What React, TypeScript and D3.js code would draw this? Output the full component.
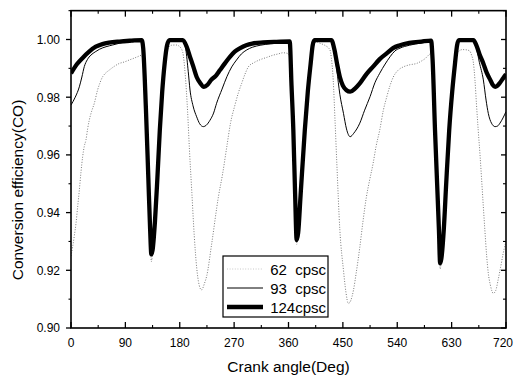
import React from 'react';
import * as d3 from 'd3';

const W = 514;
const H = 378;

const xTickValues = [0, 90, 180, 270, 360, 450, 540, 630, 720];
const xMinorTicks = [45, 135, 225, 315, 405, 495, 585, 675];
const yTickValues = [0.9, 0.92, 0.94, 0.96, 0.98, 1.0];
const yMinorTicks = [0.91, 0.93, 0.95, 0.97, 0.99, 1.01];
const legendLabels = ['62  cpsc', '93  cpsc', '124cpsc'];

// [crank angle (deg), conversion efficiency]
const cpsc62: [number, number][] = [
  [0, 0.925], [2.8, 0.9282], [5.5, 0.932], [8.3, 0.9363], [11, 0.942], [13.8, 0.9478],
  [16.5, 0.954], [19.3, 0.9594], [22, 0.963], [24.8, 0.9652], [27.5, 0.969], [30.3, 0.9721],
  [34, 0.975], [38.6, 0.9779], [44, 0.9825], [48, 0.985], [52.4, 0.9871], [57, 0.9883],
  [63.4, 0.9894], [71, 0.9906], [80, 0.9917], [88, 0.9922], [96.5, 0.9929], [104, 0.9935],
  [110, 0.994], [116, 0.9945], [119.5, 0.993], [124, 0.975], [128, 0.952], [131, 0.934],
  [133, 0.923], [135, 0.926], [139, 0.937], [143, 0.952], [147, 0.9686], [151, 0.982],
  [155, 0.9917], [160, 0.9965], [166, 0.998], [174, 0.9981], [180, 0.9975], [185, 0.9955],
  [189, 0.988], [193, 0.975], [196, 0.962], [200, 0.947], [204, 0.932], [208, 0.921],
  [212, 0.915], [216, 0.9132], [221, 0.9155], [224.6, 0.918], [233, 0.9294], [244, 0.9455],
  [251, 0.9535], [258, 0.963], [264, 0.971], [271, 0.977], [277, 0.9815], [282.5, 0.9848],
  [288, 0.988], [293.5, 0.9905], [303, 0.992], [313, 0.993], [324, 0.9938], [335, 0.9946],
  [343, 0.995], [351, 0.9954], [358, 0.9952], [362, 0.994], [365, 0.984], [368, 0.9686],
  [371, 0.946], [373.5, 0.929], [376, 0.932], [380, 0.946], [387, 0.9686], [392, 0.982],
  [396.7, 0.9917], [401, 0.997], [406.6, 0.9992], [412, 0.9987], [420, 0.998], [428.6, 0.9964],
  [431, 0.9935], [434, 0.986], [437, 0.972], [440, 0.957], [445, 0.934], [451, 0.92],
  [455, 0.9125], [459, 0.9085], [463, 0.9095], [467.6, 0.9132], [472, 0.919], [478, 0.928],
  [483, 0.9365], [489, 0.9455], [494, 0.951], [500, 0.957], [505, 0.963], [511, 0.9686],
  [517, 0.9755], [522.5, 0.98], [528, 0.984], [533.5, 0.987], [541.7, 0.9894], [550, 0.9905],
  [560, 0.9912], [572, 0.9917], [585, 0.9932], [597, 0.9952], [598.5, 0.992], [602.5, 0.9686],
  [606, 0.95], [609, 0.934], [611, 0.9205], [613, 0.923], [617, 0.934], [621, 0.95],
  [626, 0.9686], [631, 0.982], [635.6, 0.9917], [640, 0.9955], [648, 0.9965], [655, 0.9964],
  [660, 0.996], [663, 0.9946], [666, 0.992], [668.6, 0.986], [671, 0.978], [674, 0.9686],
  [677, 0.96], [679.7, 0.9513], [682.5, 0.942], [685, 0.934], [688, 0.925], [690.7, 0.919],
  [694, 0.915], [699, 0.912], [703, 0.913], [707, 0.9167], [711, 0.921], [715.5, 0.926],
  [720, 0.93],
];

const cpsc93: [number, number][] = [
  [0, 0.9773], [7, 0.98], [13.8, 0.9836], [18, 0.987], [22, 0.9906], [27, 0.993],
  [33, 0.9946], [40, 0.9957], [47, 0.9966], [58, 0.9975], [69, 0.9981], [80, 0.9987],
  [93, 0.9993], [105, 0.9995], [117, 0.9997], [119.5, 0.997], [124, 0.976], [128, 0.952],
  [131, 0.934], [133, 0.9255], [135, 0.927], [139, 0.937], [143, 0.952], [147, 0.9686],
  [151, 0.982], [155, 0.9917], [159, 0.998], [163, 0.9998], [185, 0.9996], [190, 0.9965],
  [194, 0.989], [197, 0.9825], [202, 0.977], [208, 0.9732], [213, 0.9708], [219, 0.9698],
  [224, 0.9703], [230, 0.972], [236, 0.9745], [241, 0.9779], [250, 0.9828], [258, 0.9871],
  [266, 0.9905], [274, 0.9929], [282, 0.995], [291, 0.9964], [300, 0.9973], [313, 0.998],
  [330, 0.9985], [350, 0.9988], [362, 0.999], [365, 0.984], [368, 0.9686], [371, 0.946],
  [373.5, 0.9305], [376, 0.933], [380, 0.946], [387, 0.9686], [392, 0.982], [396.7, 0.9917],
  [400, 0.998], [403, 0.9998], [431, 0.9996], [436, 0.996], [440, 0.9894], [445, 0.981],
  [451, 0.9744], [456, 0.969], [462, 0.9663], [468, 0.9675], [478, 0.971], [486, 0.9755],
  [495, 0.9802], [503, 0.985], [511, 0.9883], [520, 0.9915], [528, 0.994], [536, 0.996],
  [544.5, 0.997], [560, 0.998], [580, 0.9988], [596, 0.9992], [598.5, 0.993], [602.5, 0.9686],
  [606, 0.95], [609, 0.934], [611, 0.9224], [613, 0.924], [617, 0.934], [621, 0.95],
  [626, 0.9686], [631, 0.982], [635.6, 0.9917], [639, 0.998], [642, 0.9998], [666, 0.9995],
  [671, 0.997], [676, 0.992], [682.5, 0.986], [687, 0.979], [690.7, 0.9744], [696, 0.971],
  [702, 0.9698], [706, 0.97], [710, 0.971], [715, 0.9728], [720, 0.975],
];

const cpsc124: [number, number][] = [
  [0, 0.9883], [10, 0.9915], [20, 0.9938], [30, 0.9958], [41, 0.9975], [52, 0.9984],
  [63, 0.9989], [80, 0.9993], [100, 0.9996], [117, 0.9998], [119.5, 0.997], [124, 0.976],
  [128, 0.952], [131, 0.934], [133, 0.9255], [135, 0.927], [139, 0.937], [143, 0.952],
  [147, 0.9686], [151, 0.982], [155, 0.9917], [159, 0.998], [163, 0.9998], [185, 0.9998],
  [191.5, 0.9975], [197, 0.994], [202.5, 0.9906], [208, 0.987], [213.5, 0.985], [220, 0.9836],
  [226, 0.9843], [232, 0.986], [240, 0.9875], [246.6, 0.9894], [255, 0.9918], [263, 0.994],
  [271, 0.9958], [280, 0.997], [290, 0.998], [300, 0.9986], [318, 0.999], [340, 0.9992],
  [362, 0.9993], [365, 0.984], [368, 0.9686], [371, 0.946], [373.5, 0.9305], [376, 0.933],
  [380, 0.946], [387, 0.9686], [392, 0.982], [396.7, 0.9917], [400, 0.998], [403, 0.9998],
  [431, 0.9998], [436, 0.9965], [440, 0.992], [445, 0.987], [450, 0.984], [456, 0.9824],
  [462, 0.9819], [470, 0.983], [478, 0.9848], [489, 0.988], [500, 0.9906], [511, 0.9932],
  [522.5, 0.9952], [533, 0.997], [544.5, 0.998], [560, 0.9988], [580, 0.9993], [596, 0.9996],
  [598.5, 0.993], [602.5, 0.9686], [606, 0.95], [609, 0.934], [611, 0.9224], [613, 0.924],
  [617, 0.934], [621, 0.95], [626, 0.9686], [631, 0.982], [635.6, 0.9917], [639, 0.998],
  [642, 0.9998], [666, 0.9998], [671, 0.998], [676, 0.995], [682.5, 0.9917], [688, 0.9885],
  [694, 0.986], [698, 0.9843], [702, 0.9836], [706, 0.984], [710, 0.985], [715, 0.9865],
  [720, 0.988],
];

const FONT = 'Arial, "Liberation Sans", Helvetica, sans-serif';

export default function App() {
  const x = d3.scaleLinear().domain([0, 720]).range([71, 506]);
  const y = d3.scaleLinear().domain([0.9, 1.01]).range([328, 10.65]);
  const line = d3
    .line<[number, number]>()
    .x((d) => x(d[0]))
    .y((d) => y(d[1]))
    .curve(d3.curveMonotoneX);

  const [x0, x1] = x.range();
  const [yb, yt] = y.range();

  const styles = [
    { stroke: '#7a7a7a', width: 1, dash: '1 1.6' as string | undefined },
    { stroke: '#000', width: 1, dash: undefined as string | undefined },
    { stroke: '#000', width: 4.3, dash: undefined as string | undefined },
  ];
  const data = [cpsc62, cpsc93, cpsc124];

  return (
    <svg
      width={W}
      height={H}
      style={{ position: 'absolute', left: 0, top: 0, background: '#fff' }}
      fontFamily={FONT}
    >
      <defs>
        <clipPath id="plotClip">
          <rect x={x0} y={yt} width={x1 - x0} height={yb - yt} />
        </clipPath>
      </defs>
      <rect x={0} y={0} width={W} height={H} fill="#fff" />

      <g clipPath="url(#plotClip)">
        {data.map((d, i) => (
          <path
            key={i}
            d={line(d) || ''}
            fill="none"
            stroke={styles[i].stroke}
            strokeWidth={styles[i].width}
            strokeDasharray={styles[i].dash}
            strokeLinejoin="round"
          />
        ))}
      </g>

      {/* frame */}
      <rect x={x0} y={yt} width={x1 - x0} height={yb - yt} fill="none" stroke="#000" strokeWidth={1.6} />

      {/* bottom + top ticks (inward) */}
      {xTickValues.map((t, i) => {
        const last = i === xTickValues.length - 1;
        return (
          <g key={'xt' + t}>
            <line x1={x(t)} x2={x(t)} y1={yb} y2={yb - 6} stroke="#000" strokeWidth={1.3} />
            <line x1={x(t)} x2={x(t)} y1={yt} y2={yt + 6} stroke="#000" strokeWidth={1.3} />
            <text
              x={last ? W - 1 : x(t)}
              y={347}
              textAnchor={last ? 'end' : 'middle'}
              fontSize={12}
              fill="#000"
            >
              {t}
            </text>
          </g>
        );
      })}
      {xMinorTicks.map((t) => (
        <g key={'xm' + t}>
          <line x1={x(t)} x2={x(t)} y1={yb} y2={yb - 3} stroke="#000" strokeWidth={1.1} />
          <line x1={x(t)} x2={x(t)} y1={yt} y2={yt + 3} stroke="#000" strokeWidth={1.1} />
        </g>
      ))}

      {/* left ticks outward, right ticks inward */}
      {yTickValues.map((t) => (
        <g key={'yt' + t}>
          <line x1={x0} x2={x0 - 5} y1={y(t)} y2={y(t)} stroke="#000" strokeWidth={1.3} />
          <line x1={x1} x2={x1 - 5} y1={y(t)} y2={y(t)} stroke="#000" strokeWidth={1.3} />
          <text x={60} y={y(t) + 4.3} textAnchor="end" fontSize={12} fill="#000">
            {t.toFixed(2)}
          </text>
        </g>
      ))}
      {yMinorTicks.map((t) => (
        <g key={'ym' + t}>
          <line x1={x0} x2={x0 - 2.5} y1={y(t)} y2={y(t)} stroke="#000" strokeWidth={1.1} />
          <line x1={x1} x2={x1 - 3} y1={y(t)} y2={y(t)} stroke="#000" strokeWidth={1.1} />
        </g>
      ))}

      {/* axis titles */}
      <text x={288.5} y={372} textAnchor="middle" fontSize={15.5} fill="#000">
        Crank angle(Deg)
      </text>
      <text
        transform={`translate(23, 190) rotate(-90)`}
        textAnchor="middle"
        fontSize={15.5}
        fill="#000"
      >
        Conversion efficiency(CO)
      </text>

      {/* legend */}
      <g>
        <rect x={223} y={256} width={105} height={61} fill="#fff" stroke="#000" strokeWidth={1.2} />
        {legendLabels.map((lab, i) => {
          const ly = 269 + i * 19;
          return (
            <g key={lab}>
              <line
                x1={227}
                x2={263}
                y1={ly}
                y2={ly}
                stroke={i === 0 ? '#c8c8c8' : styles[i].stroke}
                strokeWidth={styles[i].width}
                strokeDasharray={styles[i].dash}
              />
              <text
                x={326}
                y={ly + 5.5}
                textAnchor="end"
                fontSize={15}
                fill="#000"
                style={{ whiteSpace: 'pre' }}
              >
                {lab}
              </text>
            </g>
          );
        })}
      </g>
    </svg>
  );
}
